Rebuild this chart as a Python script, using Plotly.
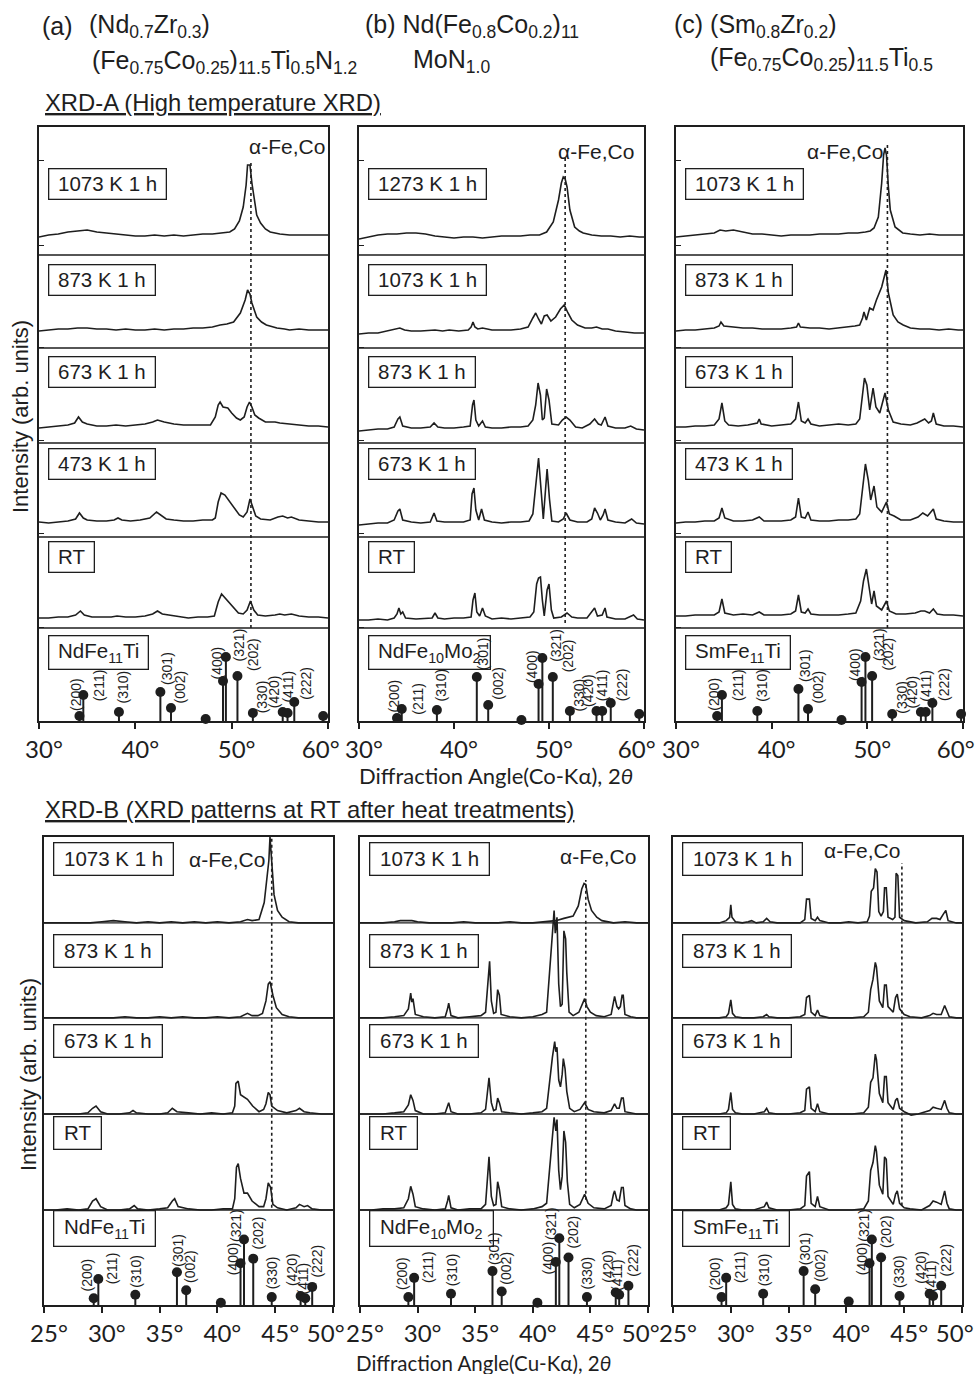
import plotly.graph_objects as go

W, H = 978, 1374
INK = '#1e1e1e'
TXT = 'Liberation Sans, Arial, sans-serif'
AXF = 'Lato, sans-serif'

# ---------------- data ----------------
ROWS_TOP_A = ["1073 K 1 h", "873 K 1 h", "673 K 1 h", "473 K 1 h", "RT"]
ROWS_TOP_B = ["1273 K 1 h", "1073 K 1 h", "873 K 1 h", "673 K 1 h", "RT"]
ROWS_TOP_C = ["1073 K 1 h", "873 K 1 h", "673 K 1 h", "473 K 1 h", "RT"]
ROWS_BOT = ["1073 K 1 h", "873 K 1 h", "673 K 1 h", "RT"]
REF_NAMES = ["NdFe<sub>11</sub>Ti", "NdFe<sub>10</sub>Mo<sub>2</sub>", "SmFe<sub>11</sub>Ti"]

HKL_TOP = ["(200)", "(211)", "(310)", "(301)", "(002)", "", "(400)", "(321)", "(202)",
           "(330)", "(420)", "(411)", "(222)", ""]
HKL_BOT = ["(200)", "(211)", "(310)", "(301)", "(002)", "", "(400)", "(321)", "(202)",
           "(330)", "(420)", "(411)", "(222)"]

# reference stick patterns (2theta, relative intensity)
REF_TA_ANG = [34.2, 34.6, 38.3, 42.6, 43.7, 47.3, 49.1, 49.4, 50.6, 52.2, 55.3, 55.8, 56.5, 59.5]
REF_TA_INT = [5, 26, 9, 29, 13, 2, 40, 64, 45, 8, 9, 8, 19, 5]
REF_TB_ANG = [34.0, 34.5, 38.2, 42.4, 43.6, 47.1, 48.9, 49.3, 50.4, 52.2, 55.0, 55.6, 56.5, 59.5]
REF_TB_INT = [3, 12, 11, 44, 16, 1, 37, 63, 44, 10, 10, 10, 18, 7]
REF_TC_ANG = [34.3, 34.8, 38.5, 42.8, 43.8, 47.3, 49.4, 49.8, 50.5, 52.6, 55.6, 56.1, 56.8, 59.8]
REF_TC_INT = [5, 26, 10, 32, 12, 1, 39, 64, 45, 7, 9, 9, 18, 7]
REF_BA_ANG = [29.3, 29.7, 32.9, 36.5, 37.3, 40.3, 42.0, 42.3, 43.1, 44.7, 47.2, 47.6, 48.2]
REF_BA_INT = [6, 23, 9, 29, 13, 2, 37, 58, 41, 7, 8, 6, 16]
REF_BB_ANG = [29.2, 29.7, 32.9, 36.5, 37.3, 40.4, 42.0, 42.3, 43.1, 44.7, 47.2, 47.5, 48.3]
REF_BB_INT = [7, 24, 10, 30, 12, 2, 38, 59, 42, 7, 11, 9, 17]
REF_BC_ANG = [29.2, 29.6, 32.8, 36.3, 37.3, 40.2, 42.0, 42.2, 43.0, 44.6, 47.2, 47.5, 48.2]
REF_BC_INT = [7, 24, 10, 30, 14, 3, 37, 58, 42, 8, 10, 8, 17]

# measured patterns, (2theta, intensity above each pattern's own baseline)
A1 = [(30,-2),(31,0),(32,1),(33,3),(34,4),(35,5),(36,3),(37,2),(38,1),(39,0),(40,-1),(41,-1),(42,0),(43,-1),(44,0),(45,-1),(46,0),(47,1),(48,1),(49,2),(49.8,3),(50.3,6),(50.8,14),(51.2,28),(51.5,50),(51.65,70),(51.9,70),(52.1,52),(52.3,38),(52.6,20),(53,12),(53.5,6),(54,3),(55,1),(56,0),(57,0),(58,0),(59,0),(60,0)]
A2 = [(30,-1),(31,0),(32,1),(33,1),(34,2),(35,2),(36,1),(37,1),(38,0),(39,1),(40,0),(41,0),(42,1),(43,0),(44,1),(45,1),(46,2),(47,2),(48,3),(48.8,5),(49.5,6),(50.2,8),(50.9,17),(51.4,30),(51.65,40),(51.9,36),(52.1,27),(52.6,13),(53.1,8),(53.6,5),(54.7,2),(55.5,1),(56,0),(57,1),(58,0),(59,0),(60,0)]
A3 = [(30,-1),(31,0),(32,1),(33,2),(33.7,4),(34.1,10),(34.5,5),(35,3),(36,1),(37,1),(38,2),(39,1),(40,2),(41,3),(41.8,5),(42.3,7),(43,5),(44,3),(45,2),(46,2),(47,2),(47.8,2),(48.3,10),(48.6,22),(48.8,25),(49.1,20),(49.6,19),(50,14),(50.5,9),(50.9,7),(51.3,10),(51.6,20),(51.85,25),(52.1,20),(52.4,12),(52.8,9),(53.5,5),(54.5,5),(55,4),(56,3),(57,2),(58,1),(59,1),(60,0)]
A4 = [(30,0),(31,-1),(32,0),(33,1),(33.8,3),(34.2,9),(34.6,4),(35,2),(36,1),(37,1),(37.8,2),(38.2,4),(38.6,2),(39.5,1),(40.5,2),(41.5,4),(42.2,10),(42.6,7),(43.2,3),(44,2),(45,1),(46,1),(47,2),(48,2),(48.3,4),(48.6,20),(48.9,29),(49.3,27),(49.8,20),(50.3,13),(50.8,7),(51.2,5),(51.6,10),(51.9,23),(52.2,14),(52.5,6),(53,3),(54,2),(54.8,5),(55.3,6),(55.8,4),(56.2,5),(57,2),(58,1),(59,0),(60,0)]
A5 = [(30,0),(31,0),(32,1),(33,1),(33.8,3),(34.3,7),(34.7,3),(35.5,1),(36.5,1),(37.5,1),(38.1,2),(39,1),(40,1),(41,2),(41.8,4),(42.3,7),(42.8,4),(43.5,3),(44.5,1),(45.5,0),(46.5,1),(47.5,1),(48.2,2),(48.6,16),(48.95,24),(49.3,20),(49.7,16),(50.2,10),(50.7,5),(51.2,4),(51.6,8),(51.95,17),(52.3,8),(52.7,3),(53.5,2),(54.5,3),(55,4),(55.5,3),(56.2,4),(57,2),(58,1),(59,1),(60,0)]

B1 = [(30,-2),(31,0),(32,2),(33,3),(34,3),(35,4),(36,4),(37,3),(38,1),(39,0),(40,-1),(41,0),(42,0),(43,-1),(44,0),(45,1),(46,1),(47,1),(48,2),(49,2),(49.75,5),(50.45,15),(51,37),(51.3,54),(51.5,60),(51.7,58),(51.9,50),(52.2,27),(52.7,10),(53.2,6),(53.6,4),(54.5,2),(55.5,1),(56.5,1),(57.5,0),(58.5,1),(59.5,0),(60,0)]
B2 = [(30,-1),(31,0),(32,0),(33,2),(33.8,4),(34.3,5),(34.8,3),(35.5,2),(36.5,2),(37.5,3),(38,3),(38.8,2),(39.5,3),(40.5,2),(41.5,3),(41.8,6),(42.0,11),(42.2,6),(42.5,4),(43,5),(44,3),(45,3),(46,3),(47,4),(47.8,6),(48.3,15),(48.6,20),(48.9,14),(49.2,9),(49.5,17),(49.8,18),(50.2,12),(50.7,16),(51.2,24),(51.6,28),(52,20),(52.4,13),(53,8),(53.8,5),(54.5,5),(55,6),(55.6,4),(56.2,4),(57,2),(58,1),(59,0),(60,0)]
B3 = [(30,-1),(31,0),(32,1),(33,1),(33.7,3),(34.1,11),(34.3,13),(34.6,4),(35.5,2),(36.5,2),(37.5,3),(37.9,7),(38.3,3),(39,2),(40,2),(41,3),(41.7,4),(41.95,25),(42.1,30),(42.3,10),(42.6,4),(43.0,9),(43.3,3),(44,2),(45,2),(46,3),(47,3),(47.8,4),(48.3,10),(48.6,25),(48.85,47),(49.1,35),(49.3,10),(49.5,12),(49.75,41),(50.0,30),(50.3,6),(51,5),(51.4,10),(51.8,13),(52.2,10),(52.8,3),(53.5,2),(54.3,6),(54.8,11),(55.2,6),(55.5,5),(55.9,13),(56.2,4),(57,2),(58,2),(58.6,4),(59.2,1),(60,0)]
B4 = [(30,-1),(31,0),(32,1),(33,1),(33.7,4),(34.1,13),(34.3,15),(34.6,4),(35.5,2),(36.5,1),(37.5,2),(37.9,11),(38.2,3),(39,2),(40,2),(41,2),(41.7,4),(41.9,30),(42.1,36),(42.3,14),(42.6,4),(42.9,15),(43.2,4),(44,2),(45,1),(46,2),(47,2),(47.9,3),(48.3,10),(48.6,40),(48.9,66),(49.2,30),(49.4,5),(49.6,30),(49.8,55),(50.05,25),(50.3,3),(51,2),(51.5,5),(51.8,11),(52.2,4),(53,2),(54,2),(54.5,5),(54.8,16),(55.1,11),(55.4,4),(55.7,9),(55.9,15),(56.2,4),(57,2),(58,1),(58.7,5),(59.2,1),(60,0)]
B5 = [(30,0),(31,0),(32,1),(33,0),(33.7,2),(34,6),(34.2,12),(34.4,6),(34.6,8),(34.9,2),(36,1),(37,2),(37.7,2),(38,7),(38.3,2),(39,1),(40,2),(41,2),(41.8,3),(42.0,20),(42.2,27),(42.4,8),(42.7,4),(43.0,12),(43.3,4),(44,1),(45,2),(46,1),(47,2),(48,3),(48.4,8),(48.7,36),(48.9,42),(49.1,43),(49.3,20),(49.5,4),(49.8,30),(50.0,36),(50.25,10),(50.5,2),(51.3,3),(51.9,7),(52.4,3),(53,2),(54,2),(54.6,10),(54.8,12),(55.1,4),(55.6,5),(55.9,12),(56.1,3),(57,1),(58,1),(58.9,5),(59.3,1),(60,0)]

C1 = [(30,-2),(31,-1),(32,0),(33,1),(34,2),(34.6,5),(35.2,4),(36,5),(37,3),(38,1),(39,1),(40,0),(41,-1),(42,0),(43,0),(44,0),(45,1),(46,1),(47,1),(48,2),(49,2),(49.8,3),(50.3,4),(50.7,7),(51.15,18),(51.5,52),(51.7,80),(51.85,87),(52.0,80),(52.2,48),(52.4,25),(52.9,8),(53.3,5),(53.7,2),(54.5,1),(55.5,0),(56.5,1),(57.5,0),(58.5,0),(59.5,0),(60,0)]
C2 = [(30,-1),(31,0),(32,0),(33,1),(34,2),(34.5,4),(34.7,8),(35,4),(36,3),(37,2),(38,2),(39,1),(40,1),(41,1),(42,2),(42.6,3),(42.8,7),(43,3),(44,2),(45,2),(46,1),(47,2),(48,3),(48.7,4),(49.2,5),(49.5,12),(49.65,18),(49.9,10),(50.25,22),(50.6,20),(50.95,30),(51.5,43),(51.95,60),(52.2,37),(52.7,15),(53.2,8),(53.75,5),(54.5,2),(55.5,1),(56.5,1),(57.5,0),(58.5,1),(59.5,0),(60,0)]
C3 = [(30,0),(31,0),(32,1),(33,1),(34,2),(34.5,8),(34.8,24),(35.1,6),(35.5,2),(36.5,1),(37.5,2),(38.5,4),(38.7,8),(38.9,3),(40,1),(41,2),(42,3),(42.5,8),(42.8,25),(43.1,6),(43.5,4),(43.8,8),(44.1,3),(45,1),(46,2),(47,3),(48,2),(48.8,3),(49.2,8),(49.45,30),(49.7,49),(49.95,42),(50.25,17),(50.6,39),(50.9,20),(51.3,14),(51.6,25),(51.85,34),(52.2,17),(52.7,5),(53.5,3),(54.5,2),(55.2,4),(55.7,7),(56.0,8),(56.4,4),(56.7,6),(56.9,14),(57.2,3),(58,1),(59,1),(60,0)]
C4 = [(30,-1),(31,0),(32,0),(33,1),(34,1),(34.5,4),(34.8,14),(35.1,4),(36,1),(37,1),(38,2),(38.7,5),(39.2,1),(40,1),(41,1),(42,2),(42.5,5),(42.8,24),(43.1,5),(43.5,4),(43.8,10),(44.1,2),(45,1),(46,1),(47,2),(48,2),(48.8,3),(49.2,8),(49.45,29),(49.8,58),(50.1,42),(50.35,22),(50.7,36),(51.0,15),(51.5,10),(52.0,20),(52.3,8),(52.8,6),(53.5,2),(54.5,2),(55.3,5),(55.8,9),(56.3,6),(56.9,13),(57.2,3),(58,1),(59,0),(60,0)]
C5 = [(30,0),(31,0),(32,1),(33,1),(34,1),(34.5,4),(34.8,17),(35.1,3),(36,1),(37,2),(38,1),(38.7,4),(39.2,1),(40,1),(41,1),(42,2),(42.5,5),(42.8,21),(43.1,4),(43.5,3),(43.8,7),(44.1,2),(45,1),(46,1),(47,1),(48,2),(48.8,3),(49.3,15),(49.6,35),(49.9,47),(50.2,30),(50.45,12),(50.7,25),(50.95,10),(51.5,6),(52.0,15),(52.3,5),(53,2),(54,2),(55,3),(55.6,5),(56.0,5),(56.5,3),(56.9,7),(57.3,2),(58,1),(59,1),(60,0)]

D1 = [(25,0),(26,0),(27,0),(28,0),(29,0),(30,1),(31,2),(32,1),(33,0),(34,1),(35,0),(36,1),(37,0),(38,1),(39,0),(40,1),(41,0),(42,1),(42.6,3),(43.0,2),(43.6,3),(44.05,18),(44.3,41),(44.45,55),(44.55,76),(44.65,60),(44.75,51),(44.9,25),(45.2,11),(45.6,5),(46.2,1),(47,0),(48,0),(49,0),(50,0)]
D2 = [(25,0),(26,0),(27,0),(28,0),(29,0),(30,0),(31,0),(32,1),(33,0),(34,0),(35,1),(36,0),(37,1),(38,0),(39,0),(40,1),(41,0),(42,1),(42.6,4),(43.0,2),(43.5,2),(43.9,4),(44.2,15),(44.4,30),(44.55,32),(44.8,20),(45.1,9),(45.6,3),(46.2,1),(47,0),(48,0),(49,0),(50,0)]
D3 = [(25,0),(26,0),(27,0),(28,0),(28.8,1),(29.2,5),(29.5,7),(29.9,2),(30.5,0),(31.5,0),(32.4,1),(32.7,3),(33,1),(34,0),(35,0),(35.7,1),(36.1,5),(36.5,2),(37.5,1),(38.5,0),(39.5,1),(40.5,0),(41.3,1),(41.5,7),(41.6,27),(41.8,29),(42.0,17),(42.3,15),(42.6,13),(43.05,7),(43.6,2),(44.0,4),(44.2,9),(44.4,19),(44.55,17),(44.7,7),(45.2,3),(46,1),(46.8,3),(47.1,5),(47.5,2),(48,1),(49,0),(50,0)]
D4 = [(25,0),(26,0),(27,1),(28,0),(28.8,1),(29.2,8),(29.5,10),(29.9,3),(30.5,0),(31.5,0),(32.4,1),(32.8,4),(33.1,1),(34,0),(35,1),(35.7,2),(36.1,8),(36.3,10),(36.6,3),(37.5,1),(38.5,0),(39.5,0),(40.5,1),(41.3,1),(41.5,10),(41.65,38),(41.8,41),(42.0,28),(42.3,15),(42.6,15),(43.0,8),(43.6,3),(44.0,3),(44.2,10),(44.4,24),(44.6,20),(44.8,5),(45.2,2),(46,0),(46.8,2),(47.1,5),(47.5,3),(47.8,4),(48.2,1),(49,0),(50,0)]

E1 = [(25,0),(26,0),(27,0),(28,1),(28.5,2),(29,2),(29.5,2),(30,1),(31,0),(32,0),(33,0),(34,1),(35,0),(36,0),(37,0),(38,1),(39,0),(40,0),(41,1),(42,2),(42.7,4),(43.2,5),(43.5,6),(43.95,15),(44.25,30),(44.45,35),(44.6,34),(44.8,21),(45.1,11),(45.55,5),(46,2),(47,0),(48,1),(49,0),(50,0)]
E2 = [(25,0),(26,0),(27,0),(28,1),(28.8,2),(29.2,8),(29.4,22),(29.5,14),(29.6,17),(29.8,3),(30.5,1),(31.5,0),(32.4,1),(32.6,8),(32.7,13),(32.9,2),(33.5,0),(34.5,1),(35.5,2),(35.9,5),(36.1,30),(36.25,50),(36.4,15),(36.6,4),(36.8,5),(36.95,25),(37.1,20),(37.25,3),(38,1),(39,0),(40,1),(40.8,3),(41.2,5),(41.55,52),(41.7,70),(41.85,95),(41.95,75),(42.1,89),(42.25,30),(42.4,10),(42.55,12),(42.7,77),(42.85,70),(42.95,40),(43.15,5),(43.5,2),(44.0,5),(44.3,12),(44.5,17),(44.7,10),(45.0,5),(45.5,2),(46.2,1),(46.8,3),(47.0,15),(47.1,19),(47.3,10),(47.45,8),(47.6,10),(47.75,20),(47.85,20),(48.0,3),(48.5,1),(49,0),(50,0)]
E3 = [(25,0),(26,0),(27,0),(28,1),(28.8,2),(29.2,8),(29.4,17),(29.6,12),(29.8,3),(30.5,0),(31.5,0),(32.4,1),(32.6,6),(32.7,10),(32.9,2),(33.5,0),(34.5,0),(35.5,1),(35.9,4),(36.1,25),(36.2,32),(36.4,10),(36.6,3),(36.8,4),(36.95,14),(37.1,10),(37.3,2),(38,1),(39,0),(40,1),(40.8,2),(41.2,5),(41.5,34),(41.7,50),(41.9,64),(42.0,55),(42.1,59),(42.25,30),(42.4,24),(42.55,35),(42.65,49),(42.8,40),(42.95,20),(43.2,5),(43.6,2),(44.1,4),(44.5,10),(44.8,4),(45.3,2),(46.2,1),(46.8,3),(47.0,8),(47.1,9),(47.3,5),(47.5,5),(47.7,14),(47.85,14),(48.0,2),(48.5,1),(49,0),(50,0)]
E4 = [(25,0),(26,0),(27,1),(28,1),(28.8,2),(29.2,10),(29.4,21),(29.6,14),(29.8,3),(30.5,1),(31.5,0),(32.4,1),(32.6,8),(32.7,13),(32.9,2),(33.5,0),(34.5,1),(35.5,1),(35.9,5),(36.1,35),(36.2,47),(36.4,12),(36.6,4),(36.8,5),(36.95,25),(37.1,18),(37.3,3),(38,1),(39,0),(40,1),(40.8,3),(41.2,6),(41.5,45),(41.7,65),(41.85,82),(42.0,70),(42.1,80),(42.25,35),(42.4,18),(42.55,30),(42.7,70),(42.85,60),(43.0,25),(43.2,5),(43.6,2),(44.1,5),(44.5,14),(44.8,6),(45.3,2),(46.2,1),(46.8,4),(47.0,14),(47.1,17),(47.3,9),(47.5,8),(47.7,20),(47.85,20),(48.0,4),(48.5,1),(49,0),(50,0)]

F1 = [(25,0),(26,0),(27,0),(28,0),(29,0),(29.6,2),(29.9,5),(30.0,16),(30.1,5),(30.4,1),(31,0),(31.5,1),(31.8,2),(32.2,0),(32.8,1),(33.1,4),(33.4,1),(34,0),(35,0),(36,0),(36.4,3),(36.55,21),(36.8,21),(36.95,4),(37.3,2),(37.5,5),(37.7,2),(38.5,0),(39.5,0),(40.2,1),(41,0),(41.8,1),(42.0,6),(42.15,28),(42.35,31),(42.5,48),(42.65,45),(42.8,10),(43.0,6),(43.2,10),(43.3,31),(43.45,31),(43.6,5),(44.0,3),(44.2,5),(44.3,44),(44.45,42),(44.6,5),(45,2),(46,0),(47,1),(47.4,4),(47.8,4),(48.1,3),(48.4,8),(48.6,11),(48.8,2),(49.5,0),(50,0)]
F2 = [(25,0),(26,0),(27,0),(28,0),(29,0),(29.6,1),(29.8,4),(30.0,16),(30.15,4),(30.4,1),(31,0),(32,0),(32.8,1),(33.1,3),(33.3,1),(34,0),(35,0),(36,1),(36.4,3),(36.55,18),(36.8,20),(36.95,5),(37.3,2),(37.5,7),(37.7,2),(38.5,0),(39.5,0),(40.5,0),(41.5,1),(41.9,5),(42.1,25),(42.3,34),(42.5,49),(42.6,45),(42.85,15),(43.15,9),(43.3,29),(43.45,29),(43.6,10),(44.05,5),(44.25,18),(44.4,21),(44.6,8),(45.0,3),(45.5,1),(46.5,0),(47.2,2),(47.5,4),(47.8,3),(48.2,3),(48.5,11),(48.7,5),(48.9,1),(49.5,0),(50,0)]
F3 = [(25,0),(26,0),(27,0),(28,0),(29,0),(29.6,1),(29.8,4),(30.0,19),(30.15,4),(30.4,1),(31,0),(32,0),(32.9,2),(33.1,5),(33.3,1),(34,0),(35,0),(36,1),(36.4,3),(36.55,22),(36.8,24),(36.95,5),(37.3,2),(37.5,9),(37.7,2),(38.5,0),(39.5,0),(40.5,0),(41.5,1),(41.9,6),(42.1,28),(42.3,32),(42.5,53),(42.6,48),(42.85,18),(43.15,10),(43.3,33),(43.45,33),(43.6,10),(44.05,4),(44.25,12),(44.4,14),(44.6,5),(45.0,2),(45.6,-1),(46.2,0),(47.2,3),(47.5,6),(47.8,5),(48.2,4),(48.5,12),(48.7,5),(48.9,1),(49.5,0),(50,0)]
F4 = [(25,0),(26,0),(27,0),(28,0),(29,0),(29.6,2),(29.8,5),(30.0,25),(30.15,5),(30.4,1),(31,0),(32,0),(32.9,3),(33.1,7),(33.3,2),(34,0),(35,0),(36,1),(36.4,4),(36.55,30),(36.8,34),(36.95,6),(37.3,3),(37.5,12),(37.7,3),(38.5,0),(39.5,0),(40.5,0),(41.5,1),(41.9,8),(42.1,35),(42.3,42),(42.5,57),(42.6,52),(42.85,22),(43.15,14),(43.3,47),(43.45,45),(43.6,12),(44.05,5),(44.25,14),(44.4,17),(44.6,6),(45.0,2),(45.5,1),(46.5,0),(47.2,4),(47.5,8),(47.8,7),(48.2,5),(48.5,17),(48.7,6),(48.9,1),(49.5,0),(50,0)]

# ---------------- layout helpers (pixels of the 978x1374 page) ----------------
def pxx(x):
    return x / W


def pxy(y):
    return 1 - y / H


TOP_Y = (127, 721)
BOT_Y = (837, 1305)

panels = [
    dict(xd=(39, 328), yd=TOP_Y, rng=(30, 60), ytop=594, rows=ROWS_TOP_A,
         spec=[A1, A2, A3, A4, A5], offs=[486, 391, 294, 199, 103],
         ref=(REF_TA_ANG, REF_TA_INT), hkl=HKL_TOP, name=REF_NAMES[0],
         dotx=52.0, dots=(93, 561), alpha=(247, 147)),
    dict(xd=(359, 644), yd=TOP_Y, rng=(30, 60), ytop=594, rows=ROWS_TOP_B,
         spec=[B1, B2, B3, B4, B5], offs=[484, 388, 291, 197, 101],
         ref=(REF_TB_ANG, REF_TB_INT), hkl=HKL_TOP, name=REF_NAMES[1],
         dotx=51.7, dots=(98, 563), alpha=(556, 152)),
    dict(xd=(676, 963), yd=TOP_Y, rng=(30, 60), ytop=594, rows=ROWS_TOP_C,
         spec=[C1, C2, C3, C4, C5], offs=[486, 391, 294, 199, 105],
         ref=(REF_TC_ANG, REF_TC_INT), hkl=HKL_TOP, name=REF_NAMES[2],
         dotx=52.1, dots=(93, 579), alpha=(805, 152)),
    dict(xd=(44, 333), yd=BOT_Y, rng=(25, 50), ytop=414, rows=ROWS_BOT,
         spec=[D1, D2, D3, D4], offs=[338, 254, 169, 84],
         ref=(REF_BA_ANG, REF_BA_INT), hkl=HKL_BOT, name=REF_NAMES[0],
         dotx=44.7, dots=(86, 413), alpha=(187, 859)),
    dict(xd=(360, 648), yd=BOT_Y, rng=(25, 50), ytop=414, rows=ROWS_BOT,
         spec=[E1, E2, E3, E4], offs=[338, 254, 169, 84],
         ref=(REF_BB_ANG, REF_BB_INT), hkl=HKL_BOT, name=REF_NAMES[1],
         dotx=44.6, dots=(93, 376), alpha=(558, 856)),
    dict(xd=(673, 962), yd=BOT_Y, rng=(25, 50), ytop=414, rows=ROWS_BOT,
         spec=[F1, F2, F3, F4], offs=[338, 254, 169, 84],
         ref=(REF_BC_ANG, REF_BC_INT), hkl=HKL_BOT, name=REF_NAMES[2],
         dotx=44.8, dots=(88, 391), alpha=(822, 850)),
]

TOP_SEPS = [466, 373, 278, 184, 93]
BOT_SEPS = [338, 254, 169, 84]
TOP_YTICKS = [561, 476, 374, 281, 188, 94]
TOP_BOX_Y = [553, 457, 365, 273, 180, 86]
BOT_BOX_Y = [409.5, 328, 249, 167, 84]
TOP_LBL_DX = [-4, 16, 4, 6, 9, 0, -7, 13, 15, 9, -9, 0, 11, 0]
TOP_LBL_DY = [3, -8, 7, 5, 3, 0, -1, -6, 3, -2, 2, 8, 0, 0]
BOT_LBL_DX = [-7, 14, 1, 1, 4, 0, -8, -8, 5, 0, -8, -2, 5]
BOT_LBL_DY = [5, -7, 5, 4, 5, 0, -14, -4, 7, 6, 8, 2, 7]

NB = '\u00a0'

fig = go.Figure()
layout = dict(width=W, height=H, autosize=False,
              margin=dict(l=0, r=0, t=0, b=0, pad=0, autoexpand=False),
              paper_bgcolor='white', plot_bgcolor='white', showlegend=False)
shapes, annos = [], []

for i, p in enumerate(panels):
    n = i + 1
    xa = 'xaxis' if n == 1 else f'xaxis{n}'
    ya = 'yaxis' if n == 1 else f'yaxis{n}'
    xr = 'x' if n == 1 else f'x{n}'
    yr = 'y' if n == 1 else f'y{n}'
    top = i < 3
    lo, hi = p['rng']
    tv = list(range(lo, hi + 1, 10 if top else 5))
    tt = [f'{v}°' for v in tv]
    tt[-1] = tt[-1] + NB * 4
    layout[xa] = dict(domain=[pxx(p['xd'][0]), pxx(p['xd'][1])], range=[lo, hi], anchor=yr,
                      tickvals=tv, ticktext=tt, ticks='outside', ticklen=6, tickwidth=1.5,
                      tickcolor=INK, showline=True, mirror=True, linecolor=INK, linewidth=1.5,
                      showgrid=False, zeroline=False, ticklabelshift=5, automargin=False,
                      ticklabeloverflow='allow',
                      tickfont=dict(family=AXF, size=24, color=INK))
    layout[ya] = dict(domain=[pxy(p['yd'][1]), pxy(p['yd'][0])], range=[0, p['ytop']], anchor=xr,
                      showline=True, mirror=True, linecolor=INK, linewidth=1.5,
                      showgrid=False, zeroline=False, showticklabels=False, automargin=False,
                      tickvals=TOP_YTICKS if top else [], ticks='inside' if top else '',
                      ticklen=5, tickwidth=1.3, tickcolor=INK)

    # measured patterns
    for s, off in zip(p['spec'], p['offs']):
        fig.add_trace(go.Scatter(x=[q[0] for q in s], y=[q[1] + off for q in s], mode='lines',
                                 line=dict(color=INK, width=1.6), xaxis=xr, yaxis=yr,
                                 hoverinfo='skip'))
    # reference sticks
    ang, inten = p['ref']
    sx, sy = [], []
    for a, h in zip(ang, inten):
        sx += [a, a, None]
        sy += [0, h, None]
    fig.add_trace(go.Scatter(x=sx, y=sy, mode='lines', line=dict(color=INK, width=2),
                             xaxis=xr, yaxis=yr, hoverinfo='skip'))
    fig.add_trace(go.Scatter(x=ang, y=inten, mode='markers', cliponaxis=False,
                             marker=dict(size=10, color=INK), xaxis=xr, yaxis=yr, hoverinfo='skip'))

    # row separators
    for s in (TOP_SEPS if top else BOT_SEPS):
        shapes.append(dict(type='line', xref=f'{xr} domain', yref=yr, x0=0, x1=1, y0=s, y1=s,
                           line=dict(color=INK, width=1.4)))
    # dotted alpha-Fe,Co line
    shapes.append(dict(type='line', xref=xr, yref=yr, x0=p['dotx'], x1=p['dotx'],
                       y0=p['dots'][0], y1=p['dots'][1], line=dict(color=INK, width=1.6, dash='dot')))
    # boxed row labels
    boxes = TOP_BOX_Y if top else BOT_BOX_Y
    for lab, by in zip(p['rows'] + [p['name']], boxes):
        annos.append(dict(xref=xr, yref=yr, x=lo, y=by, xshift=9, xanchor='left', yanchor='top',
                          text=NB + lab + NB, showarrow=False,
                          font=dict(family=TXT, size=20.5, color=INK),
                          bordercolor=INK, borderwidth=1.3, borderpad=3 if top else 4))
    # Miller indices
    dxs = TOP_LBL_DX if top else BOT_LBL_DX
    dys = TOP_LBL_DY if top else BOT_LBL_DY
    for a, h, t, dx, dy in zip(ang, inten, p['hkl'], dxs, dys):
        if not t:
            continue
        annos.append(dict(xref=xr, yref=yr, x=a, y=h, xshift=dx, yshift=dy, xanchor='center',
                          yanchor='bottom', textangle=-90, text=t, showarrow=False,
                          font=dict(family=TXT, size=14, color=INK)))
    # alpha-Fe,Co
    annos.append(dict(xref='paper', yref='paper', x=pxx(p['alpha'][0]), y=pxy(p['alpha'][1]),
                      xanchor='left', yanchor='middle', text='α-Fe,Co', showarrow=False,
                      font=dict(family=TXT, size=21, color=INK)))

# headers and titles
HEAD = [
    ('(a)', 40, 26),
    ('(Nd<sub>0.7</sub>Zr<sub>0.3</sub>)', 87, 26),
    ('(Fe<sub>0.75</sub>Co<sub>0.25</sub>)<sub>11.5</sub>Ti<sub>0.5</sub>N<sub>1.2</sub>', 90, 62),
    ('(b) Nd(Fe<sub>0.8</sub>Co<sub>0.2</sub>)<sub>11</sub>', 363, 26),
    ('MoN<sub>1.0</sub>', 411, 61),
    ('(c) (Sm<sub>0.8</sub>Zr<sub>0.2</sub>)', 672, 26),
    ('(Fe<sub>0.75</sub>Co<sub>0.25</sub>)<sub>11.5</sub>Ti<sub>0.5</sub>', 708, 59),
]
for t, x, y in HEAD:
    annos.append(dict(xref='paper', yref='paper', x=pxx(x), y=pxy(y), xanchor='left',
                      yanchor='middle', text=t, showarrow=False,
                      font=dict(family=TXT, size=25, color=INK)))

for t, y in [('<u>XRD-A (High temperature XRD)</u>', 103),
             ('<u>XRD-B (XRD patterns at RT after heat treatments)</u>', 809)]:
    annos.append(dict(xref='paper', yref='paper', x=pxx(43), y=pxy(y), xanchor='left',
                      yanchor='middle', text=t, showarrow=False,
                      font=dict(family=TXT, size=23.8, color=INK)))

for t, x, y, sz in [('Diffraction Angle(Co-Kα), 2<i>θ</i>', 496, 775, 22),
                    ('Diffraction Angle(Cu-Kα), 2<i>θ</i>', 483, 1363, 20.5)]:
    annos.append(dict(xref='paper', yref='paper', x=pxx(x), y=pxy(y), xanchor='center',
                      yanchor='middle', text=t, showarrow=False,
                      font=dict(family=AXF, size=sz, color=INK)))

for x, y in [(20, 417), (28, 1075)]:
    annos.append(dict(xref='paper', yref='paper', x=pxx(x), y=pxy(y), xanchor='center',
                      yanchor='middle', text='Intensity (arb. units)', textangle=-90,
                      showarrow=False, font=dict(family=TXT, size=22, color=INK)))

layout['shapes'] = shapes
layout['annotations'] = annos
fig.update_layout(**layout)
fig.write_html("out.html")
